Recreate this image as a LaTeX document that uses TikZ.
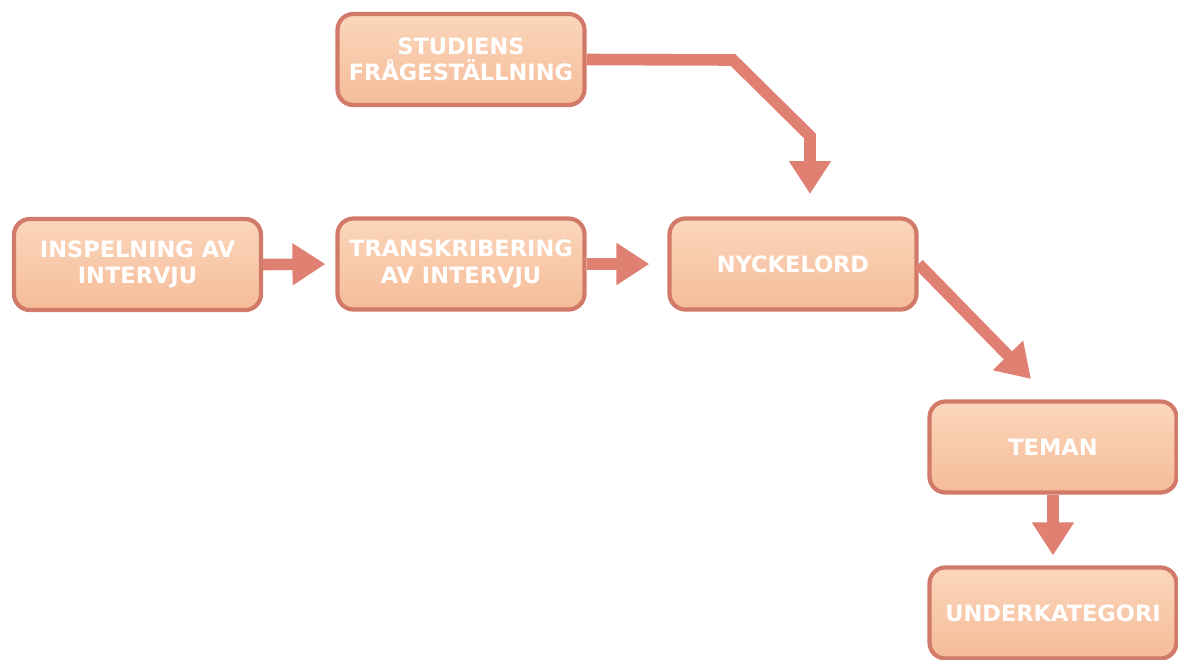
\documentclass[tikz,border=0pt]{standalone}
\usepackage{fontspec}
\setmainfont{DejaVu Sans}
\usepackage{xcolor}
\usepackage{tikz}
\usetikzlibrary{arrows.meta,positioning}
\definecolor{peachtop}{HTML}{FBD6BC}
\definecolor{peachbot}{HTML}{F5BC98}
\definecolor{rimc}{HTML}{D27A69}
\definecolor{arc}{HTML}{E08072}
\tikzset{
  box/.style={draw=rimc,line width=2.4pt,rounded corners=9pt,top color=peachtop,bottom color=peachbot,
    minimum width=4.94cm,minimum height=1.82cm,align=center,text=white,
    font=\fontsize{12.8}{15}\selectfont\bfseries,inner sep=2pt},
  ar/.style={-{Triangle[length=0.66cm,width=0.8cm]},line width=6.6pt,arc,line join=miter}
}
\begin{document}
\begin{tikzpicture}[x=0.02cm,y=-0.02cm]
\useasboundingbox (0,0) rectangle (1178,660);
% boxes
\node[box] (stu) at (461,59.5) {STUDIENS\\FRÅGESTÄLLNING};
\node[box] (insp) at (137.5,264.5) {INSPELNING AV\\INTERVJU};
\node[box] (trans) at (461,264) {TRANSKRIBERING\\AV INTERVJU};
\node[box] (nyc) at (793,264) {NYCKELORD};
\node[box] (tem) at (1053,447) {TEMAN};
\node[box] (und) at (1053,613) {UNDERKATEGORI};
% bends and tips
\coordinate (k1) at (733,60);
\coordinate (k2) at (810,136);
\coordinate (t1) at (810,194);
\coordinate (t2) at (1031,379);
% arrows
\draw[ar,shorten >=0.2cm] (insp.east) -- (trans.west);
\draw[ar,shorten >=0.36cm] (trans.east) -- (nyc.west);
\draw[ar] (stu.east) -- (k1) -- (k2) -- (t1);
\draw[ar] (nyc.east) -- (t2);
\draw[ar,shorten >=0.2cm] (tem.south) -- (und.north);
\end{tikzpicture}
\end{document}
